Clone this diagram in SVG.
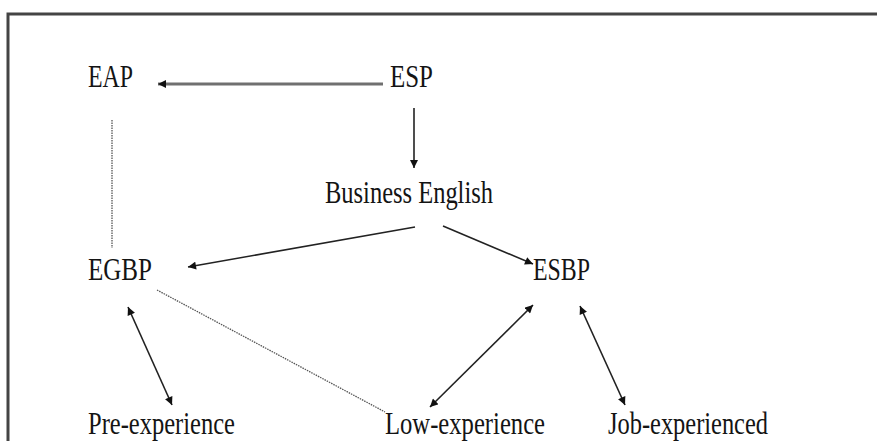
<svg xmlns="http://www.w3.org/2000/svg" width="877" height="441" viewBox="0 0 877 441">
<style>
text{font-family:"Liberation Serif","Times New Roman",serif;font-size:31px;fill:#141414}
.ln{stroke:#222;stroke-width:1.6;fill:none}
.dot{stroke:#555;stroke-width:1.3;stroke-dasharray:1.5 1;fill:none}
</style>
<defs>
<marker id="ah" viewBox="0 0 10 10" refX="10" refY="5" markerWidth="9" markerHeight="8" markerUnits="userSpaceOnUse" orient="auto-start-reverse">
<path d="M0,0 L10,5 L0,10 z" fill="#111"/>
</marker>
</defs>
<rect width="877" height="441" fill="#fff"/>
<polyline points="8,441 8,14 877,14" fill="none" stroke="#444" stroke-width="3"/>
<g id="connectors">
<line x1="383" y1="84" x2="158" y2="84" stroke="#707070" stroke-width="3.2" marker-end="url(#ah)"/>
<line class="ln" x1="414" y1="108" x2="414" y2="168" marker-end="url(#ah)"/>
<line class="dot" x1="112" y1="120" x2="112" y2="248"/>
<line class="ln" x1="415" y1="227" x2="188" y2="267" marker-end="url(#ah)"/>
<line class="ln" x1="443" y1="226" x2="533" y2="264" marker-end="url(#ah)"/>
<line class="dot" x1="157" y1="290" x2="385" y2="412"/>
<line class="ln" x1="128" y1="307" x2="172" y2="405" marker-start="url(#ah)" marker-end="url(#ah)"/>
<line class="ln" x1="533" y1="305" x2="430" y2="407" marker-start="url(#ah)" marker-end="url(#ah)"/>
<line class="ln" x1="580" y1="306" x2="625" y2="405" marker-start="url(#ah)" marker-end="url(#ah)"/>
</g>
<g id="eap"><text x="88" y="87" textLength="45" lengthAdjust="spacingAndGlyphs">EAP</text></g>
<g id="esp"><text x="390" y="87" textLength="43" lengthAdjust="spacingAndGlyphs">ESP</text></g>
<g id="business-english"><text x="325" y="203" textLength="168" lengthAdjust="spacingAndGlyphs">Business English</text></g>
<g id="egbp"><text x="88" y="280" textLength="64" lengthAdjust="spacingAndGlyphs">EGBP</text></g>
<g id="esbp"><text x="533" y="280" textLength="57" lengthAdjust="spacingAndGlyphs">ESBP</text></g>
<g id="pre-experience"><text x="88" y="434" textLength="147" lengthAdjust="spacingAndGlyphs">Pre-experience</text></g>
<g id="low-experience"><text x="385" y="434" textLength="160" lengthAdjust="spacingAndGlyphs">Low-experience</text></g>
<g id="job-experienced"><text x="608" y="434" textLength="160" lengthAdjust="spacingAndGlyphs">Job-experienced</text></g>
</svg>
